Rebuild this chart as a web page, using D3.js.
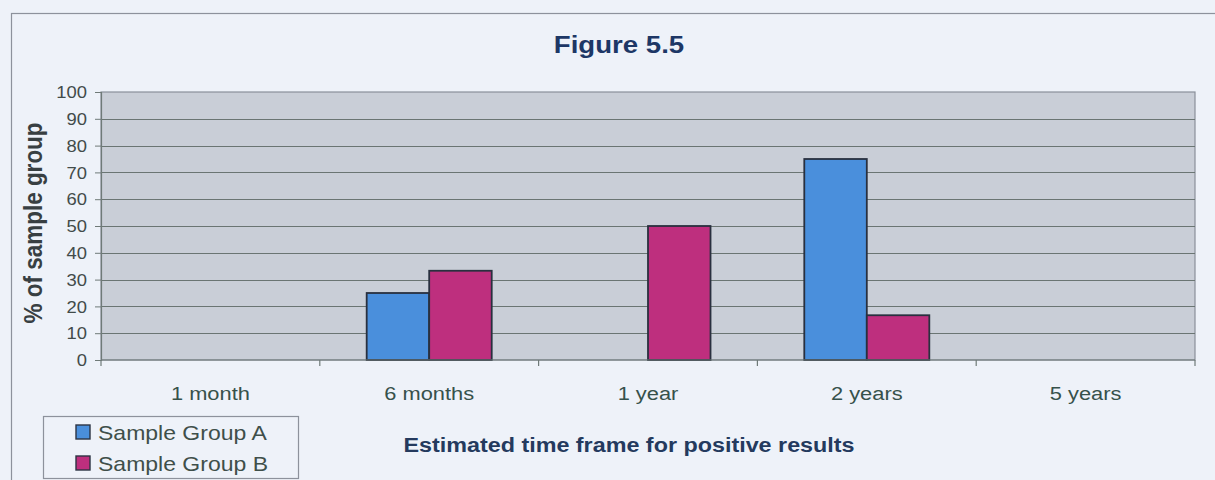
<!DOCTYPE html>
<html>
<head>
<meta charset="utf-8">
<script src="https://cdn.jsdelivr.net/npm/d3@7"></script>
<style>
  html, body { margin: 0; padding: 0; background: #eef2f9; }
  svg { display: block; }
  text { font-family: Arial, "Liberation Sans", sans-serif; }
</style>
</head>
<body>
<svg id="chart" width="1215" height="480"></svg>
<script>
// Time frames on the x axis
const categories = ["1 month", "6 months", "1 year", "2 years", "5 years"];
// Series names and their values (% of sample group)
const seriesNames = ["Sample Group A", "Sample Group B"];
const groupA = [0, 25, 0, 75, 0];
const groupB = [0, 33.3, 50, 16.7, 0];
const yTicks = [0, 10, 20, 30, 40, 50, 60, 70, 80, 90, 100];

const colors = { "Sample Group A": "#4a8fdc", "Sample Group B": "#be2f7e" };
const SX = 1.15; // horizontal stretch of the lettering

const svg = d3.select("#chart");
const W = 1215, H = 480;

// page background and outer frame
svg.append("rect").attr("width", W).attr("height", H).attr("fill", "#eef2f9");
svg.append("rect")
  .attr("x", 11.5).attr("y", 13.5).attr("width", W).attr("height", H)
  .attr("fill", "none").attr("stroke", "#8d929c").attr("stroke-width", 1.2);

const plot = { left: 101, top: 92, right: 1195, bottom: 360 };

const x = d3.scaleBand().domain(categories).range([plot.left, plot.right]).padding(0);
const bw = x.bandwidth();
const gap = bw * 1.5 / 3.5; // 150% gap width
const x1 = d3.scaleBand().domain(seriesNames).range([gap / 2, bw - gap / 2]).padding(0);
const y = d3.scaleLinear().domain([0, 100]).range([plot.bottom, plot.top]);

// plot area
svg.append("rect")
  .attr("x", plot.left).attr("y", plot.top)
  .attr("width", plot.right - plot.left).attr("height", plot.bottom - plot.top)
  .attr("fill", "#c9ced7").attr("stroke", "#8a909a").attr("stroke-width", 1.2);

// horizontal gridlines
svg.append("g")
  .selectAll("line")
  .data(yTicks.filter(d => d > 0 && d < 100))
  .join("line")
  .attr("x1", plot.left).attr("x2", plot.right)
  .attr("y1", d => Math.round(y(d)) + 0.5).attr("y2", d => Math.round(y(d)) + 0.5)
  .attr("stroke", "#6a7573").attr("stroke-width", 1.1);

// bars
const rows = categories.map((c, i) => ({ cat: c, values: [
  { name: seriesNames[0], value: groupA[i] },
  { name: seriesNames[1], value: groupB[i] }
]}));

svg.append("g")
  .selectAll("g")
  .data(rows)
  .join("g")
  .attr("transform", d => `translate(${x(d.cat)},0)`)
  .selectAll("rect")
  .data(d => d.values.filter(v => v.value > 0))
  .join("rect")
  .attr("x", d => x1(d.name))
  .attr("y", d => y(d.value))
  .attr("width", x1.bandwidth())
  .attr("height", d => y(0) - y(d.value))
  .attr("fill", d => colors[d.name])
  .attr("stroke", "#29303f").attr("stroke-width", 1.8);

// y axis
const yAxis = svg.append("g")
  .attr("transform", `translate(${plot.left},0)`)
  .call(d3.axisLeft(y).tickValues(yTicks).tickSize(6).tickPadding(0).tickFormat(d3.format("d")));
yAxis.select(".domain").attr("stroke", "#6f7a78").attr("stroke-width", 1.2);
yAxis.selectAll(".tick line").attr("stroke", "#6f7a78");
yAxis.selectAll(".tick text")
  .attr("x", 0).attr("dy", "0.36em")
  .attr("text-anchor", "end")
  .attr("transform", `translate(-14,0) scale(${SX},1)`)
  .attr("fill", "#424b4a")
  .style("font-size", "16px");

// x axis with ticks at category boundaries
const xAxis = svg.append("g").attr("transform", `translate(0,${plot.bottom})`);
xAxis.append("line")
  .attr("x1", plot.left).attr("x2", plot.right)
  .attr("stroke", "#6f7a78").attr("stroke-width", 1.2);
xAxis.selectAll("line.tk")
  .data(categories.map(c => x(c)).concat([plot.right]))
  .join("line").attr("class", "tk")
  .attr("x1", d => d).attr("x2", d => d)
  .attr("y1", 0).attr("y2", 6)
  .attr("stroke", "#6f7a78").attr("stroke-width", 1.2);
xAxis.selectAll("text")
  .data(categories)
  .join("text")
  .attr("text-anchor", "middle")
  .attr("transform", d => `translate(${x(d) + bw / 2},40) scale(${SX},1)`)
  .attr("fill", "#36514b")
  .style("font-size", "19px")
  .text(d => d);

// title
svg.append("text")
  .attr("transform", `translate(619,53) scale(${SX},1)`)
  .attr("text-anchor", "middle")
  .attr("fill", "#1d3766")
  .style("font-size", "24px").style("font-weight", "bold")
  .text("Figure 5.5");

// axis titles
svg.append("text")
  .attr("transform", `translate(629,452) scale(${SX},1)`)
  .attr("text-anchor", "middle")
  .attr("fill", "#243a5e")
  .style("font-size", "20.3px").style("font-weight", "bold")
  .text("Estimated time frame for positive results");

svg.append("text")
  .attr("transform", `translate(42,223) rotate(-90) scale(1,${SX})`)
  .attr("text-anchor", "middle")
  .attr("fill", "#383f42")
  .style("font-size", "22.5px").style("font-weight", "bold")
  .text("% of sample group");

// legend
const legend = svg.append("g");
legend.append("rect")
  .attr("x", 43.5).attr("y", 416.5).attr("width", 255).attr("height", 62)
  .attr("fill", "#eef2f9").attr("stroke", "#8d929c").attr("stroke-width", 1.2);
const items = legend.selectAll("g.item")
  .data(seriesNames)
  .join("g").attr("class", "item")
  .attr("transform", (d, i) => `translate(0,${432 + i * 31})`);
items.append("rect")
  .attr("x", 76).attr("y", -7).attr("width", 14).attr("height", 14)
  .attr("fill", d => colors[d]).attr("stroke", "#2c3444").attr("stroke-width", 1.4);
items.append("text")
  .attr("transform", `translate(98,7.5) scale(${SX},1)`)
  .attr("fill", "#3f4f4a")
  .style("font-size", "20px")
  .text(d => d);
</script>
</body>
</html>
